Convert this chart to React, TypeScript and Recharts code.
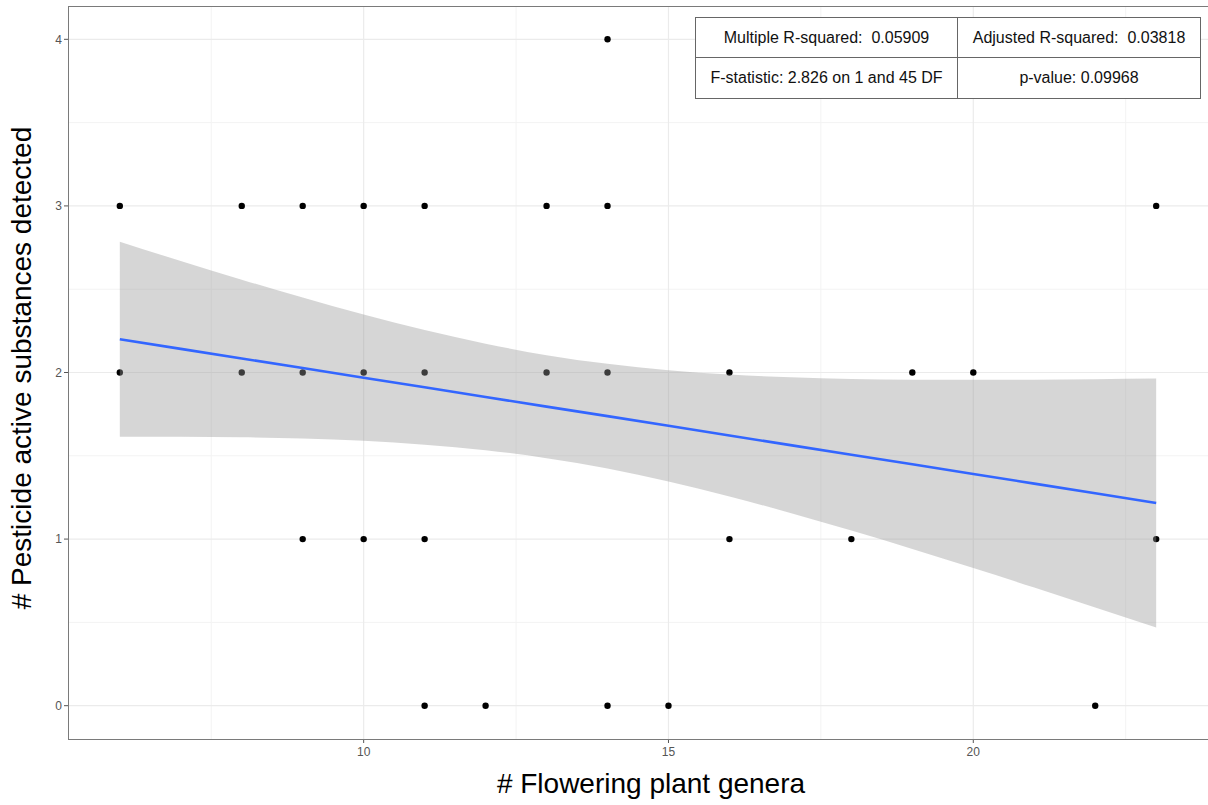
import React from 'react';
import { ComposedChart, XAxis, YAxis, Scatter, Line, Area, CartesianGrid } from 'recharts';

// fitted regression line and 95% confidence band
const fitX = [6, 7, 8, 9, 10, 11, 12, 13, 14, 15, 16, 17, 18, 19, 20, 21, 22, 23];
const fitY = [2.2, 2.142, 2.084, 2.027, 1.969, 1.911, 1.853, 1.795, 1.738, 1.68, 1.622, 1.564, 1.506, 1.449, 1.391, 1.333, 1.275, 1.217];
const lowerBand = [1.615, 1.615, 1.611, 1.604, 1.59, 1.567, 1.534, 1.486, 1.424, 1.346, 1.256, 1.157, 1.051, 0.941, 0.826, 0.709, 0.59, 0.47];
const upperBand = [2.785, 2.669, 2.557, 2.45, 2.348, 2.255, 2.173, 2.104, 2.052, 2.014, 1.988, 1.971, 1.961, 1.957, 1.956, 1.957, 1.96, 1.964];

// observations
const pointX = [14, 6, 8, 9, 10, 11, 13, 14, 23, 6, 8, 9, 10, 11, 13, 14, 16, 19, 20, 9, 10, 11, 16, 18, 23, 11, 12, 14, 15, 22];
const pointY = [4, 3, 3, 3, 3, 3, 3, 3, 3, 2, 2, 2, 2, 2, 2, 2, 2, 2, 2, 1, 1, 1, 1, 1, 1, 0, 0, 0, 0, 0];

const xTicks = [10, 15, 20];
const yTicks = [0, 1, 2, 3, 4];
const xMinor = [7.5, 12.5, 17.5, 22.5];
const yMinor = [0.5, 1.5, 2.5, 3.5];

const statLabels = [
  ['Multiple R-squared:  0.05909', 'Adjusted R-squared:  0.03818'],
  ['F-statistic: 2.826 on 1 and 45 DF', 'p-value: 0.09968'],
];

const xLabel = '# Flowering plant genera';
const yLabel = '# Pesticide active substances detected';

const lineData = fitX.map((x, i) => ({ x, y: fitY[i], band: [lowerBand[i], upperBand[i]] }));
const points = pointX.map((x, i) => ({ x, y: pointY[i] }));

const FONT = '"Liberation Sans", Arial, Helvetica, sans-serif';

const Dot = (props: any) => <circle cx={props.cx} cy={props.cy} r={3.2} fill="#000" />;

export default function App() {
  const W = 1208;
  const H = 805;
  const L = 68;
  const T = 6;
  const B = 739;
  return (
    <div style={{ position: 'absolute', left: 0, top: 0, width: W, height: H, background: '#fff', fontFamily: FONT }}>
      <ComposedChart width={W} height={H} data={lineData} margin={{ top: T, right: 0, bottom: 0, left: 0 }}>
        <CartesianGrid
          stroke="#f3f3f3"
          strokeWidth={1}
          horizontalValues={yMinor}
          verticalValues={xMinor}
        />
        <CartesianGrid
          stroke="#ebebeb"
          strokeWidth={1.2}
          horizontalValues={yTicks}
          verticalValues={xTicks}
        />
        <XAxis
          type="number"
          dataKey="x"
          domain={[5.15, 23.85]}
          ticks={xTicks}
          allowDataOverflow
          height={H - B}
          axisLine={false}
          tickLine={{ stroke: '#555' }}
          tickSize={4}
          tick={{ fill: '#555', fontSize: 12, fontFamily: FONT, dy: 2 }}
        />
        <YAxis
          type="number"
          dataKey="y"
          domain={[-0.2, 4.2]}
          ticks={yTicks}
          allowDataOverflow
          width={L}
          axisLine={false}
          tickLine={{ stroke: '#555' }}
          tickSize={4}
          tick={{ fill: '#555', fontSize: 12, fontFamily: FONT }}
        />
        <Scatter data={points} dataKey="y" shape={Dot} isAnimationActive={false} zIndex={50} />
        <Area
          type="monotone"
          dataKey="band"
          stroke="none"
          fill="#999999"
          fillOpacity={0.4}
          isAnimationActive={false}
          activeDot={false}
          zIndex={100}
        />
        <Line
          type="linear"
          dataKey="y"
          stroke="#3366FF"
          strokeWidth={2.6}
          dot={false}
          activeDot={false}
          isAnimationActive={false}
          zIndex={200}
        />
      </ComposedChart>
      {/* panel border */}
      <div
        style={{
          position: 'absolute',
          left: L,
          top: T,
          width: W - L + 1,
          height: B - T + 1,
          border: '1px solid #7a7a7a',
          boxSizing: 'border-box',
          pointerEvents: 'none',
        }}
      />
      {/* stats table */}
      <div
        style={{
          position: 'absolute',
          left: 695,
          top: 17,
          width: 506,
          height: 82,
          border: '1px solid #666',
          boxSizing: 'border-box',
          background: '#fff',
          display: 'grid',
          gridTemplateColumns: '262px 1fr',
          gridTemplateRows: '40px 1fr',
          fontSize: 16,
          color: '#111',
          fontFamily: FONT,
        }}
      >
        {statLabels.flat().map((s, i) => (
          <div
            key={i}
            style={{
              display: 'flex',
              alignItems: 'center',
              justifyContent: 'center',
              whiteSpace: 'pre',
              borderRight: i % 2 === 0 ? '1px solid #666' : 'none',
              borderBottom: i < 2 ? '1px solid #666' : 'none',
            }}
          >
            {s}
          </div>
        ))}
      </div>
      {/* axis titles */}
      <div
        style={{
          position: 'absolute',
          left: 0,
          width: 1302,
          top: 768,
          lineHeight: '32px',
          textAlign: 'center',
          fontSize: 28,
          color: '#000',
          whiteSpace: 'nowrap',
        }}
      >
        {xLabel}
      </div>
      <div
        style={{
          position: 'absolute',
          left: 22,
          top: 368,
          lineHeight: '32px',
          transform: 'translate(-50%, -50%) rotate(-90deg)',
          fontSize: 28,
          color: '#000',
          whiteSpace: 'nowrap',
        }}
      >
        {yLabel}
      </div>
    </div>
  );
}
